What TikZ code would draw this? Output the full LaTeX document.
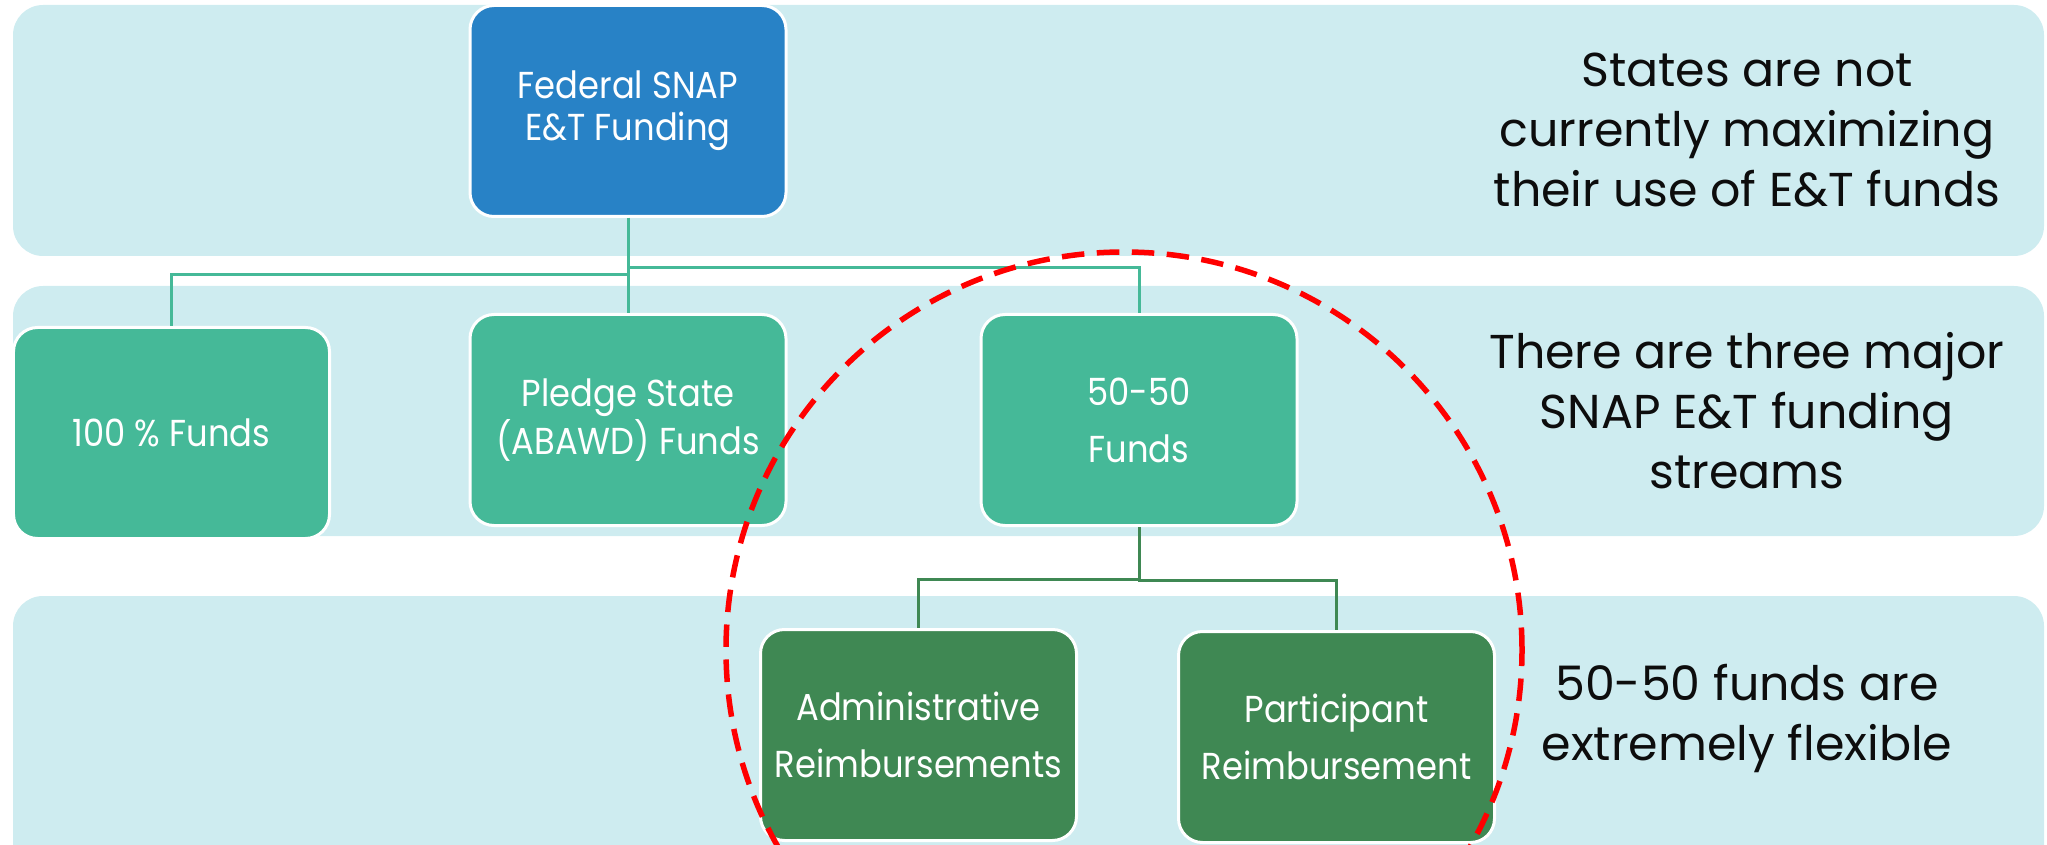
\documentclass[tikz,border=0pt]{standalone}
\usepackage{fontspec}
\setmainfont{Poppins}
\newfontfamily\boxfont[FakeStretch=0.9]{Poppins}
\definecolor{bandcyan}{HTML}{CEECF0}
\definecolor{fedblue}{HTML}{2882C6}
\definecolor{fundteal}{HTML}{45B998}
\definecolor{subgreen}{HTML}{3F8853}
\begin{document}
\begin{tikzpicture}[x=0.4pt,y=-0.4pt]
  \tikzstyle{band}=[fill=bandcyan,rounded corners=12pt]
  \tikzstyle{fund}=[rectangle,rounded corners=9.6pt,draw=white,line width=1.2pt,fill=fundteal,
    minimum width=126.4pt,minimum height=84.4pt,inner sep=0pt,align=center,text=white,
    font=\boxfont\fontsize{15}{16.8}\selectfont]
  \tikzstyle{wide}=[font=\boxfont\fontsize{15}{22.8}\selectfont]
  \tikzstyle{note}=[align=center,text=black!95,font=\fontsize{19}{24}\selectfont]
  \tikzstyle{link}=[draw=fundteal,line width=1.2pt]
  \tikzstyle{sublink}=[draw=subgreen,line width=1.2pt]
  \clip (0,0) rectangle (2047,845);
  % background bands
  \fill[band] (13,5) rectangle (2044,256);
  \fill[band] (13,286) rectangle (2044,536);
  \fill[band] (13,596) rectangle (2044,900);
  % funding boxes
  \node [fund,fill=fedblue] (fed) at (628,111) {Federal SNAP\\E\&T Funding};
  \node [fund] (full) at (171.5,433) {100 \% Funds};
  \node [fund] (pledge) at (628,420) {Pledge State\\(ABAWD) Funds};
  \node [fund,wide] (half) at (1139,420) {50-50\\Funds};
  \node [fund,wide,fill=subgreen] (admin) at (918.5,735) {Administrative\\Reimbursements};
  \node [fund,wide,fill=subgreen] (part) at (1336.5,737) {Participant\\Reimbursement};
  % connectors
  \path[link] (fed.south) -- ++(0,57) -| (full.north);
  \path[link] (fed.south) -- (pledge.north);
  \path[link] (fed.south) -- ++(0,50) -| (half.north);
  \path[sublink] (half.south) -- ++(0,52) -| (admin.north);
  \path[sublink] (half.south) -- ++(0,53) -| (part.north);
  % notes
  \node [note] (n1) at (1747,130) {States are not\\currently maximizing\\their use of E\&T funds};
  \node [note] (n2) at (1747,411) {There are three major\\SNAP E\&T funding\\streams};
  \node [note] (n3) at (1747,718) {50-50 funds are\\extremely flexible};
  % highlight
  \draw[red,line width=2.2pt,dash pattern=on 9pt off 5pt] (1124,650) circle [radius=159.2pt];
\end{tikzpicture}
\end{document}
